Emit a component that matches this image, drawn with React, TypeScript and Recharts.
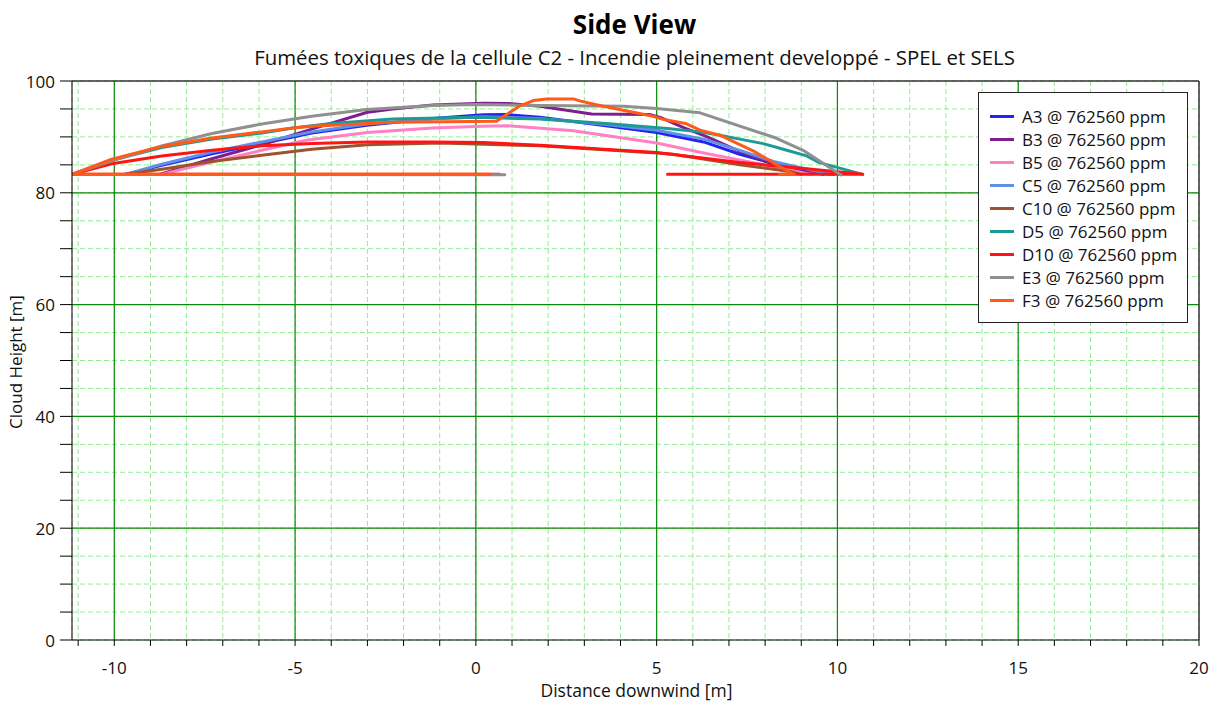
import React from 'react';
import { LineChart, Line, XAxis, YAxis, CartesianGrid, ReferenceLine } from 'recharts';

type P = { x: number; y: number };

const TITLE = 'Side View';
const SUBTITLE = 'Fumées toxiques de la cellule C2 - Incendie pleinement developpé - SPEL et SELS';
const X_LABEL = 'Distance downwind [m]';
const Y_LABEL = 'Cloud Height [m]';

const X_TICKS = [-11, -10, -9, -8, -7, -6, -5, -4, -3, -2, -1, 0, 1, 2, 3, 4, 5, 6, 7, 8, 9, 10, 11, 12, 13, 14, 15, 16, 17, 18, 19, 20];
const Y_TICKS = [0, 5, 10, 15, 20, 25, 30, 35, 40, 45, 50, 55, 60, 65, 70, 75, 80, 85, 90, 95, 100];
const X_MAJOR = [-10, -5, 0, 5, 10, 15];
const Y_MAJOR = [20, 40, 60, 80];

const A3: P[] = [
  { x: -9.7, y: 83.3 }, { x: -8.69, y: 84.9 }, { x: -7.3, y: 87.0 }, { x: -5.92, y: 88.8 },
  { x: -4.54, y: 90.7 }, { x: -3.02, y: 92.1 }, { x: -1.19, y: 93.3 }, { x: 0.2, y: 93.95 },
  { x: 0.8, y: 94.0 }, { x: 1.77, y: 93.5 }, { x: 3.6, y: 92.0 }, { x: 5.0, y: 90.8 },
  { x: 6.3, y: 89.1 }, { x: 7.3, y: 86.9 }, { x: 8.23, y: 85.2 }, { x: 9.6, y: 83.3 },
];
const B3: P[] = [
  { x: -8.75, y: 83.3 }, { x: -7.3, y: 86.1 }, { x: -5.92, y: 88.6 }, { x: -4.54, y: 91.4 },
  { x: -3.0, y: 94.4 }, { x: -2.3, y: 95.0 }, { x: -1.19, y: 95.7 }, { x: 0.2, y: 96.0 },
  { x: 1.0, y: 95.95 }, { x: 1.77, y: 95.5 }, { x: 3.2, y: 94.1 }, { x: 4.8, y: 94.0 },
  { x: 5.1, y: 93.5 }, { x: 5.73, y: 91.7 }, { x: 6.4, y: 90.0 }, { x: 7.3, y: 87.4 },
  { x: 8.23, y: 85.1 }, { x: 9.6, y: 83.4 }, { x: 9.9, y: 83.3 },
];
const B5: P[] = [
  { x: -8.7, y: 83.3 }, { x: -7.3, y: 85.5 }, { x: -5.92, y: 87.6 }, { x: -4.7, y: 89.4 },
  { x: -3.0, y: 90.8 }, { x: -1.2, y: 91.6 }, { x: 0.2, y: 91.9 }, { x: 0.85, y: 92.0 },
  { x: 2.7, y: 91.1 }, { x: 5.0, y: 88.9 }, { x: 6.4, y: 87.0 }, { x: 8.23, y: 84.7 },
  { x: 9.15, y: 83.4 }, { x: 9.3, y: 83.3 },
];
const C5: P[] = [
  { x: -9.7, y: 83.3 }, { x: -8.69, y: 85.1 }, { x: -7.3, y: 87.3 }, { x: -5.92, y: 89.1 },
  { x: -4.54, y: 90.9 }, { x: -3.02, y: 92.3 }, { x: -1.19, y: 93.2 }, { x: 0.2, y: 93.6 },
  { x: 1.77, y: 93.3 }, { x: 3.6, y: 92.2 }, { x: 5.0, y: 91.2 }, { x: 6.3, y: 89.6 },
  { x: 7.3, y: 87.6 }, { x: 8.23, y: 85.6 }, { x: 9.8, y: 83.3 },
];
const C10: P[] = [
  { x: -9.7, y: 83.3 }, { x: -8.69, y: 84.2 }, { x: -7.3, y: 85.6 }, { x: -5.92, y: 86.7 },
  { x: -4.54, y: 87.8 }, { x: -3.0, y: 88.6 }, { x: -1.0, y: 88.9 }, { x: 1.77, y: 88.4 },
  { x: 5.0, y: 87.1 }, { x: 5.45, y: 86.9 }, { x: 7.3, y: 85.0 }, { x: 8.7, y: 83.8 },
  { x: 9.0, y: 83.3 },
];
const D5: P[] = [
  { x: -11.17, y: 83.3 }, { x: -10.07, y: 85.8 }, { x: -8.69, y: 88.1 }, { x: -7.3, y: 89.6 },
  { x: -5.92, y: 90.7 }, { x: -5.06, y: 91.6 }, { x: -4.0, y: 92.4 }, { x: -2.3, y: 93.2 },
  { x: -1.0, y: 93.4 }, { x: 0, y: 93.5 }, { x: 1.77, y: 93.2 }, { x: 3.6, y: 92.4 },
  { x: 5.3, y: 91.5 }, { x: 6.2, y: 90.9 }, { x: 6.75, y: 90.3 }, { x: 7.3, y: 89.6 },
  { x: 7.95, y: 88.8 }, { x: 8.6, y: 87.6 }, { x: 9.15, y: 86.6 }, { x: 9.5, y: 85.4 },
  { x: 10.7, y: 83.3 },
];
const D10: P[] = [
  { x: 0.66, y: 83.3 }, { x: -11.17, y: 83.3 }, { x: -10.07, y: 85.2 }, { x: -8.69, y: 86.6 },
  { x: -7.3, y: 87.6 }, { x: -5.92, y: 88.4 }, { x: -4.54, y: 88.8 }, { x: -3.0, y: 89.1 },
  { x: -1.19, y: 89.1 }, { x: 0.2, y: 89.0 }, { x: 1.77, y: 88.5 }, { x: 5.0, y: 87.2 },
  { x: 7.3, y: 85.4 }, { x: 9.15, y: 84.3 }, { x: 10.7, y: 83.3 }, { x: 5.3, y: 83.3 },
];
const E3: P[] = [
  { x: 0.8, y: 83.25 }, { x: -11.17, y: 83.3 }, { x: -10.07, y: 85.7 }, { x: -8.69, y: 88.4 },
  { x: -7.3, y: 90.6 }, { x: -5.92, y: 92.3 }, { x: -4.54, y: 93.7 }, { x: -3.02, y: 94.9 },
  { x: -1.19, y: 95.6 }, { x: 0, y: 95.8 }, { x: 1.77, y: 95.6 }, { x: 4.1, y: 95.5 },
  { x: 5.0, y: 95.1 }, { x: 6.2, y: 94.3 }, { x: 8.3, y: 89.8 }, { x: 9.05, y: 87.6 },
  { x: 10.1, y: 83.2 },
];
const F3: P[] = [
  { x: 0.4, y: 83.3 }, { x: -11.17, y: 83.3 }, { x: -10.07, y: 86.0 }, { x: -8.69, y: 88.3 },
  { x: -7.3, y: 89.8 }, { x: -5.92, y: 90.9 }, { x: -5.06, y: 91.6 }, { x: -4.54, y: 91.9 },
  { x: -2.3, y: 92.6 }, { x: 0.57, y: 92.8 }, { x: 1.2, y: 95.5 }, { x: 1.59, y: 96.5 },
  { x: 1.96, y: 96.8 }, { x: 2.7, y: 96.8 }, { x: 2.9, y: 96.4 }, { x: 3.3, y: 95.8 },
  { x: 3.9, y: 95.0 }, { x: 4.9, y: 93.7 }, { x: 5.2, y: 93.1 }, { x: 5.8, y: 92.4 },
  { x: 6.2, y: 91.2 }, { x: 6.75, y: 90.3 }, { x: 7.3, y: 88.6 }, { x: 7.67, y: 87.5 },
  { x: 8.4, y: 84.7 }, { x: 8.8, y: 83.3 }, { x: 8.4, y: 83.3 },
];

const SERIES_NAMES = ['A3 @ 762560 ppm', 'B3 @ 762560 ppm', 'B5 @ 762560 ppm', 'C5 @ 762560 ppm', 'C10 @ 762560 ppm', 'D5 @ 762560 ppm', 'D10 @ 762560 ppm', 'E3 @ 762560 ppm', 'F3 @ 762560 ppm'];
const SERIES_COLORS = ['#2424EE', '#7E1F8E', '#FF80C4', '#6090EA', '#A0522D', '#1E9A96', '#FF1414', '#909090', '#FF5A1A'];
const SERIES_DATA = [A3, B3, B5, C5, C10, D5, D10, E3, F3];

const FONT = '"Open Sans", "Noto Sans", sans-serif';

const XTick = (props: any) => {
  const { x, y, payload } = props;
  const v = payload.value;
  if (Math.abs(v % 5) > 1e-9) return <g />;
  return (
    <text x={x} y={y + 19} textAnchor="middle" dominantBaseline="central" fontSize={17} fontFamily={FONT} fill="#111">
      {String(v)}
    </text>
  );
};

const YTick = (props: any) => {
  const { x, y, payload } = props;
  const v = payload.value;
  if (Math.abs(v % 20) > 1e-9) return <g />;
  return (
    <text x={x - 3} y={y} textAnchor="end" dominantBaseline="central" fontSize={17} fontFamily={FONT} fill="#111">
      {String(v)}
    </text>
  );
};

const LegendBox = () => (
  <div
    style={{
      position: 'absolute',
      left: 978,
      top: 92,
      width: 208,
      height: 229,
      border: '1px solid #222',
      background: '#fff',
      boxSizing: 'content-box',
      fontFamily: FONT,
      fontSize: 17,
      color: '#111',
    }}
  >
    {SERIES_NAMES.map((n, i) => (
      <div key={n} style={{ position: 'absolute', left: 11, top: 12 + i * 23, height: 23, display: 'flex', alignItems: 'center' }}>
        <span style={{ display: 'inline-block', width: 24, height: 3, background: SERIES_COLORS[i], marginRight: 8 }} />
        <span style={{ whiteSpace: 'nowrap', lineHeight: '23px' }}>{n}</span>
      </div>
    ))}
  </div>
);

export default function App() {
  return (
    <div style={{ position: 'absolute', left: 0, top: 0, width: 1215, height: 702, background: '#fff', overflow: 'hidden' }}>
      <div style={{ position: 'absolute', left: 0, width: 1215, top: 6, textAlign: 'center', fontFamily: FONT, fontWeight: 700, fontSize: 26, color: '#000', lineHeight: '36px', paddingLeft: 54, boxSizing: 'border-box' }}>
        {TITLE}
      </div>
      <div style={{ position: 'absolute', left: 0, width: 1215, top: 43, textAlign: 'center', fontFamily: FONT, fontSize: 20.4, color: '#111', lineHeight: '28px', paddingLeft: 54, boxSizing: 'border-box' }}>
        {SUBTITLE}
      </div>
      <div style={{ position: 'absolute', left: 0, width: 1215, top: 677, textAlign: 'center', paddingLeft: 58, boxSizing: 'border-box', fontFamily: FONT, fontSize: 17.5, color: '#111', lineHeight: '26px' }}>
        {X_LABEL}
      </div>
      <div style={{ position: 'absolute', left: 16, top: 362, width: 0, height: 0 }}>
        <div style={{ position: 'absolute', left: -100, top: -13, width: 200, textAlign: 'center', transform: 'rotate(-90deg)', fontFamily: FONT, fontSize: 17, color: '#111', lineHeight: '26px', whiteSpace: 'nowrap' }}>
          {Y_LABEL}
        </div>
      </div>
      <div style={{ position: 'absolute', left: 0, top: 0 }}>
        <LineChart width={1215} height={702} margin={{ top: 81, right: 16, bottom: 12, left: 12 }}>
          <CartesianGrid stroke="#90EE90" strokeDasharray="5 3" strokeWidth={1} />
          <XAxis
            type="number"
            dataKey="x"
            domain={[-11.17, 20]}
            allowDataOverflow
            ticks={X_TICKS}
            interval={0}
            tick={<XTick />}
            tickSize={6}
            height={50}
            stroke="#000"
            tickLine={{ stroke: '#000' }}
            axisLine={{ stroke: '#000' }}
          />
          <YAxis
            type="number"
            dataKey="y"
            domain={[0, 100]}
            allowDataOverflow
            ticks={Y_TICKS}
            interval={0}
            tick={<YTick />}
            tickSize={12}
            width={60}
            stroke="#000"
            tickLine={{ stroke: '#000' }}
            axisLine={{ stroke: '#000' }}
          />
          {X_MAJOR.map((v) => (
            <ReferenceLine key={'vx' + v} x={v} stroke="#0A8A0A" strokeWidth={1.2} />
          ))}
          {Y_MAJOR.map((v) => (
            <ReferenceLine key={'hy' + v} y={v} stroke="#0A8A0A" strokeWidth={1.2} />
          ))}
          <ReferenceLine y={100} stroke="#333" strokeWidth={1.5} />
          <ReferenceLine x={20} stroke="#333" strokeWidth={1.5} />
          {SERIES_DATA.map((d, i) => (
            <Line
              key={SERIES_NAMES[i]}
              name={SERIES_NAMES[i]}
              data={d}
              dataKey="y"
              type="linear"
              stroke={SERIES_COLORS[i]}
              strokeWidth={3}
              strokeLinejoin="round"
              strokeLinecap="round"
              dot={false}
              activeDot={false}
              isAnimationActive={false}
            />
          ))}
        </LineChart>
      </div>
      <LegendBox />
    </div>
  );
}
